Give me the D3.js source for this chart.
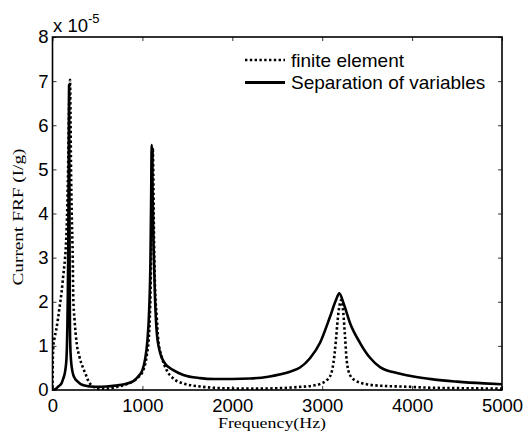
<!DOCTYPE html>
<html><head><meta charset="utf-8">
<script src="https://cdn.jsdelivr.net/npm/d3@7"></script>
<style>
html,body{margin:0;padding:0;background:#fff;}
svg{display:block;}
</style></head>
<body>
<svg id="chart" width="531" height="436"></svg>
<script>
// ---- data (values in units of 1e-5) ----
const feFreq = [0,3,8,20,40,60,80,100,120,140,150,165,176,184,190,195,200,206,214,225,231,245,269,300,340,370,400,450,520,600,700,800,900,960,1010,1050,1075,1090,1100,1108,1115,1121,1128,1138,1159,1177,1214,1270,1344,1455,1641,1900,2200,2500,2750,2900,2980,3050,3090,3124,3153,3172,3198,3212,3235,3254,3272,3309,3365,3495,3700,3866,4233,4600,5000];
const feValues = [0.05,0.6,0.95,1.15,1.35,1.6,1.9,2.2,2.6,3.0,3.3,4.2,5.3,6.4,6.85,7.03,6.3,5.0,4.0,3.0,2.1,1.6,1.06,0.75,0.5,0.35,0.2,0.08,0.03,0.03,0.06,0.12,0.2,0.3,0.45,0.8,1.3,2.2,3.4,4.7,5.5,4.9,3.6,2.5,1.66,1.13,0.76,0.45,0.26,0.15,0.08,0.04,0.03,0.04,0.07,0.1,0.14,0.22,0.32,0.6,1.13,1.59,1.97,2.04,1.74,1.21,0.68,0.34,0.22,0.13,0.09,0.08,0.05,0.04,0.03];

const sovFreq = [0,30,65,100,120,135,146,155,160,165,170,175,179,182,184,186,189,191,194,198,205,215,230,250,280,310,360,420,500,600,700,800,900,950,1000,1030,1055,1075,1090,1098,1103,1108,1115,1125,1140,1160,1196,1251,1344,1455,1641,1800,2000,2200,2400,2550,2650,2753,2864,2976,3087,3150,3190,3240,3309,3420,3532,3643,3866,4000,4233,4500,4800,5000];
const sovValues = [0.0,0.02,0.08,0.15,0.26,0.36,0.5,0.7,0.95,1.4,2.1,3.2,4.6,6.0,6.92,6.0,4.0,2.6,1.5,1.0,0.7,0.5,0.35,0.26,0.19,0.14,0.1,0.08,0.07,0.08,0.1,0.13,0.2,0.3,0.45,0.7,1.1,1.8,3.0,4.5,5.55,5.0,4.3,3.2,2.1,1.3,0.85,0.6,0.45,0.34,0.27,0.25,0.25,0.26,0.3,0.36,0.42,0.51,0.72,1.07,1.66,2.02,2.19,1.95,1.52,1.07,0.73,0.52,0.37,0.31,0.24,0.19,0.15,0.13];

const xTicks = [0,1000,2000,3000,4000,5000];
const yTicks = [0,1,2,3,4,5,6,7,8];
const seriesNames = ["finite element","Separation of variables"];
const exponentLabel = "-5";
const xTitle = "Frequency(Hz)";
const yTitle = "Current FRF (I/g)";

// ---- layout ----
const L = 52.5, R = 502, T = 37, B = 390;
const svg = d3.select("#chart");
const x = d3.scaleLinear().domain([0,5000]).range([L,R]);
const y = d3.scaleLinear().domain([0,8]).range([B,T]);
const sans = "Arial, 'Liberation Sans', sans-serif";
const serif = "'Times New Roman', 'Liberation Serif', serif";

svg.append("defs").append("clipPath").attr("id","clip")
  .append("rect").attr("x",L).attr("y",T).attr("width",R-L).attr("height",B-T);

const fe = feFreq.map((f,i)=>[f,feValues[i]]);
const sov = sovFreq.map((f,i)=>[f,sovValues[i]]);
const line = d3.line().x(d=>x(d[0])).y(d=>y(d[1])).curve(d3.curveMonotoneX);

const g = svg.append("g").attr("clip-path","url(#clip)");
g.append("path").datum(fe).attr("d",line).attr("fill","none")
  .attr("stroke","#000").attr("stroke-width",2.6).attr("stroke-dasharray","2.4,2.4");
g.append("path").datum(sov).attr("d",line).attr("fill","none")
  .attr("stroke","#000").attr("stroke-width",2.6).attr("stroke-linejoin","round");

function style(sel, labels){
  sel.select(".domain").remove();
  sel.selectAll(".tick line").attr("stroke","#000").attr("stroke-width",0.8);
  sel.selectAll(".tick text").attr("fill", labels ? "#000" : "none")
    .style("font-family",sans).style("font-size","18.5px");
}
svg.append("g").attr("transform",`translate(0,${B})`)
  .call(d3.axisBottom(x).tickValues(xTicks).tickFormat(d3.format("d")).tickSizeInner(-4).tickSizeOuter(0).tickPadding(9))
  .call(s=>style(s,true));
svg.append("g").attr("transform",`translate(0,${T})`)
  .call(d3.axisTop(x).tickValues(xTicks).tickFormat("").tickSizeInner(-4).tickSizeOuter(0))
  .call(s=>style(s,false));
svg.append("g").attr("transform",`translate(${L},0)`)
  .call(d3.axisLeft(y).tickValues(yTicks).tickFormat(d3.format("d")).tickSizeInner(-4).tickSizeOuter(0).tickPadding(4))
  .call(s=>style(s,true));
svg.append("g").attr("transform",`translate(${R},0)`)
  .call(d3.axisRight(y).tickValues(yTicks).tickFormat("").tickSizeInner(-4).tickSizeOuter(0))
  .call(s=>style(s,false));

svg.append("rect").attr("x",L).attr("y",T).attr("width",R-L).attr("height",B-T)
  .attr("fill","none").attr("stroke","#000").attr("stroke-width",1.6);

const ex = svg.append("text").attr("x",53).attr("y",32).style("font-family",sans).style("font-size","18.5px").attr("fill","#000");
ex.append("tspan").text("x 10");
ex.append("tspan").attr("dy",-9).style("font-size","13px").text(exponentLabel);

svg.append("text").attr("x",272).attr("y",428).attr("text-anchor","middle")
  .style("font-family",serif).style("font-size","15.5px").attr("fill","#000")
  .attr("textLength",108).attr("lengthAdjust","spacingAndGlyphs").text(xTitle);
svg.append("text").attr("transform","translate(23,217) rotate(-90)").attr("text-anchor","middle")
  .style("font-family",serif).style("font-size","15px").attr("fill","#000")
  .attr("textLength",137).attr("lengthAdjust","spacingAndGlyphs").text(yTitle);

const lg = svg.append("g");
const legY = [60, 82.5];
seriesNames.forEach((name,i)=>{
  lg.append("line").attr("x1",245).attr("x2",285).attr("y1",legY[i]).attr("y2",legY[i])
    .attr("stroke","#000").attr("stroke-width",i===0?2.4:2.8)
    .attr("stroke-dasharray", i===0 ? "2.4,2.4" : null);
  lg.append("text").attr("x",291).attr("y",legY[i]+6.5)
    .style("font-family",sans).style("font-size","19px").attr("fill","#000").text(name);
});
</script>
</body></html>
